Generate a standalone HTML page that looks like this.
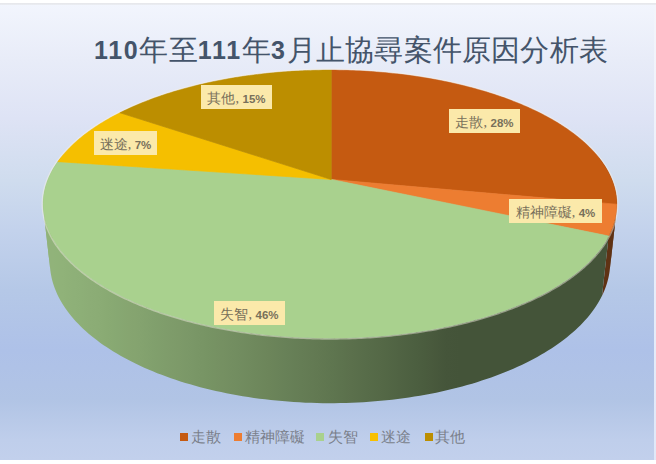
<!DOCTYPE html>
<html lang="zh-Hant"><head><meta charset="utf-8">
<style>
html,body{margin:0;padding:0;}
body{width:656px;height:464px;position:relative;overflow:hidden;background:#fff;font-family:"Liberation Sans",sans-serif;}
#bg{position:absolute;left:0;top:5px;width:654px;height:455px;
 background:linear-gradient(to bottom,#f2f5fd 0%,#e8ecf8 12%,#dee3f5 25%,#cfdcee 38.6%,#c3d2ec 49.6%,#b5c8e7 62.7%,#aec1e8 75.9%,#b1c4e5 86.8%,#bfceeb 95.6%,#c2d0ec 100%);}
#topline{position:absolute;left:0;top:3px;width:656px;height:2px;background:linear-gradient(#e6e6ea,#ebedf3);}
#rstrip{position:absolute;left:654px;top:5px;width:2px;height:455px;background:linear-gradient(#f3f5fb,#e0e8f8);}
svg{position:absolute;left:0;top:0;}
.title{position:absolute;left:94px;top:30px;white-space:nowrap;color:#44546a;font-size:29px;line-height:40px;letter-spacing:0.2px;font-weight:500;}
.title b{font-weight:bold;font-size:25px;letter-spacing:1.7px;position:relative;top:-1px;}
.lbl{position:absolute;background:#fbe9aa;color:#78705a;font-size:14px;line-height:28px;height:24px;overflow:hidden;white-space:nowrap;text-align:center;font-family:"Liberation Serif",serif;}
.lbl b{font-family:"Liberation Sans",sans-serif;font-weight:bold;font-size:11.5px;}
.legend{position:absolute;top:427px;left:0;height:20px;font-size:15px;color:#7a7f8a;white-space:nowrap;line-height:20px;}
.legend i{position:absolute;top:6px;width:8px;height:8px;}
.legend span{position:absolute;top:0;font-family:"Liberation Serif",serif;}
</style></head><body>
<div id="bg"></div><div id="topline"></div><div id="rstrip"></div>
<svg width="656" height="464" viewBox="0 0 656 464">
<defs><linearGradient id="g0" gradientUnits="userSpaceOnUse" x1="593.41" y1="0" x2="616.83" y2="0"><stop offset="0.9998" stop-color="#4f2407"/><stop offset="1.0000" stop-color="#4f2407"/></linearGradient><linearGradient id="g1" gradientUnits="userSpaceOnUse" x1="602.02" y1="0" x2="616.83" y2="0"><stop offset="0.4498" stop-color="#5f3214"/><stop offset="0.4683" stop-color="#5f3214"/><stop offset="0.4865" stop-color="#5f3214"/><stop offset="0.5043" stop-color="#5f3214"/><stop offset="0.5218" stop-color="#5f3214"/><stop offset="0.5390" stop-color="#5f3214"/><stop offset="0.5559" stop-color="#5f3214"/><stop offset="0.5725" stop-color="#5f3214"/><stop offset="0.5887" stop-color="#5f3214"/><stop offset="0.6046" stop-color="#5f3214"/><stop offset="0.6202" stop-color="#5f3214"/><stop offset="0.6355" stop-color="#5f3214"/><stop offset="0.6504" stop-color="#5f3214"/><stop offset="0.6651" stop-color="#5f3214"/><stop offset="0.6794" stop-color="#5f3214"/><stop offset="0.6934" stop-color="#5f3214"/><stop offset="0.7070" stop-color="#5f3214"/><stop offset="0.7204" stop-color="#5f3214"/><stop offset="0.7334" stop-color="#5f3214"/><stop offset="0.7461" stop-color="#5f3214"/><stop offset="0.7585" stop-color="#5f3214"/><stop offset="0.7706" stop-color="#5f3214"/><stop offset="0.7824" stop-color="#5f3214"/><stop offset="0.7938" stop-color="#5f3214"/><stop offset="0.8049" stop-color="#5f3214"/><stop offset="0.8158" stop-color="#5f3214"/><stop offset="0.8263" stop-color="#5f3214"/><stop offset="0.8365" stop-color="#5f3214"/><stop offset="0.8463" stop-color="#5f3214"/><stop offset="0.8559" stop-color="#5f3214"/><stop offset="0.8651" stop-color="#5f3214"/><stop offset="0.8741" stop-color="#5f3214"/><stop offset="0.8827" stop-color="#5f3214"/><stop offset="0.8910" stop-color="#5f3214"/><stop offset="0.8990" stop-color="#5f3214"/><stop offset="0.9067" stop-color="#5f3214"/><stop offset="0.9141" stop-color="#5f3214"/><stop offset="0.9212" stop-color="#5f3214"/><stop offset="0.9279" stop-color="#5f3214"/><stop offset="0.9344" stop-color="#5f3214"/><stop offset="0.9406" stop-color="#5f3214"/><stop offset="0.9464" stop-color="#5f3214"/><stop offset="0.9519" stop-color="#5f3214"/><stop offset="0.9572" stop-color="#5f3214"/><stop offset="0.9621" stop-color="#5f3214"/><stop offset="0.9667" stop-color="#5f3214"/><stop offset="0.9711" stop-color="#5f3214"/><stop offset="0.9751" stop-color="#5f3214"/><stop offset="0.9788" stop-color="#5f3214"/><stop offset="0.9822" stop-color="#5f3214"/><stop offset="0.9853" stop-color="#5f3214"/><stop offset="0.9881" stop-color="#5f3214"/><stop offset="0.9906" stop-color="#5f3214"/><stop offset="0.9929" stop-color="#5f3214"/><stop offset="0.9948" stop-color="#5f3214"/><stop offset="0.9964" stop-color="#5f3214"/><stop offset="0.9977" stop-color="#5f3214"/><stop offset="0.9987" stop-color="#5f3214"/><stop offset="0.9994" stop-color="#5f3214"/><stop offset="0.9999" stop-color="#5f3214"/><stop offset="1.0000" stop-color="#5f3214"/></linearGradient><linearGradient id="g2" gradientUnits="userSpaceOnUse" x1="43.15" y1="0" x2="608.68" y2="0"><stop offset="0.0000" stop-color="#90b279"/><stop offset="0.0009" stop-color="#90b379"/><stop offset="0.0030" stop-color="#91b37a"/><stop offset="0.0064" stop-color="#91b37a"/><stop offset="0.0111" stop-color="#91b37a"/><stop offset="0.0171" stop-color="#91b37a"/><stop offset="0.0244" stop-color="#90b379"/><stop offset="0.0331" stop-color="#90b279"/><stop offset="0.0431" stop-color="#8fb178"/><stop offset="0.0545" stop-color="#8eb078"/><stop offset="0.0673" stop-color="#8daf77"/><stop offset="0.0814" stop-color="#8cad76"/><stop offset="0.0968" stop-color="#8bac75"/><stop offset="0.1136" stop-color="#89aa73"/><stop offset="0.1316" stop-color="#87a872"/><stop offset="0.1509" stop-color="#86a570"/><stop offset="0.1714" stop-color="#84a36f"/><stop offset="0.1930" stop-color="#81a06d"/><stop offset="0.2157" stop-color="#7f9d6b"/><stop offset="0.2395" stop-color="#7d9a69"/><stop offset="0.2642" stop-color="#7a9767"/><stop offset="0.2898" stop-color="#779464"/><stop offset="0.3161" stop-color="#759062"/><stop offset="0.3432" stop-color="#728d60"/><stop offset="0.3709" stop-color="#6f895d"/><stop offset="0.3991" stop-color="#6c855a"/><stop offset="0.4277" stop-color="#688158"/><stop offset="0.4566" stop-color="#657d55"/><stop offset="0.4857" stop-color="#627952"/><stop offset="0.5149" stop-color="#5e754f"/><stop offset="0.5440" stop-color="#5b704c"/><stop offset="0.5730" stop-color="#576c49"/><stop offset="0.6017" stop-color="#546846"/><stop offset="0.6301" stop-color="#506343"/><stop offset="0.6580" stop-color="#4c5f40"/><stop offset="0.6853" stop-color="#495a3d"/><stop offset="0.7120" stop-color="#45553a"/><stop offset="0.7379" stop-color="#445439"/><stop offset="0.7629" stop-color="#445439"/><stop offset="0.7871" stop-color="#445439"/><stop offset="0.8102" stop-color="#445439"/><stop offset="0.8323" stop-color="#445439"/><stop offset="0.8533" stop-color="#445439"/><stop offset="0.8730" stop-color="#445439"/><stop offset="0.8916" stop-color="#445439"/><stop offset="0.9089" stop-color="#445439"/><stop offset="0.9250" stop-color="#445439"/><stop offset="0.9397" stop-color="#445439"/><stop offset="0.9531" stop-color="#445439"/><stop offset="0.9651" stop-color="#445439"/><stop offset="0.9759" stop-color="#445439"/><stop offset="0.9852" stop-color="#445439"/><stop offset="0.9933" stop-color="#445439"/><stop offset="1.0000" stop-color="#445439"/></linearGradient><linearGradient id="g3" gradientUnits="userSpaceOnUse" x1="57.79" y1="0" x2="66.96" y2="0"><stop offset="0.0000" stop-color="#c39800"/></linearGradient></defs>
<path d="M599.20,158.02 L600.78,160.07 L602.28,162.14 L603.72,164.23 L605.09,166.33 L606.39,168.45 L607.62,170.59 L608.77,172.74 L609.86,174.91 L610.86,177.10 L611.80,179.29 L612.66,181.50 L613.44,183.73 L614.14,185.97 L614.76,188.22 L615.30,190.48 L615.77,192.75 L616.15,195.04 L616.44,197.33 L616.66,199.63 L616.79,201.94 L616.83,204.26 L610.25,262.29 L610.23,259.84 L610.13,257.40 L609.94,254.97 L609.67,252.55 L609.32,250.14 L608.88,247.74 L608.37,245.35 L607.78,242.98 L607.12,240.61 L606.37,238.26 L605.55,235.93 L604.66,233.61 L603.69,231.30 L602.65,229.01 L601.54,226.73 L600.36,224.47 L599.11,222.23 L597.78,220.01 L596.39,217.80 L594.94,215.61 L593.41,213.44 Z" fill="url(#g0)"/>
<path d="M616.83,204.26 L616.80,206.29 L616.70,208.32 L616.54,210.35 L616.31,212.39 L609.67,270.86 L609.91,268.71 L610.09,266.57 L610.20,264.43 L610.25,262.29 Z" fill="url(#g1)"/>
<path d="M616.31,212.39 L615.96,214.74 L615.52,217.10 L614.99,219.46 L614.37,221.82 L613.65,224.18 L612.85,226.55 L611.95,228.91 L610.95,231.28 L609.86,233.64 L608.68,236.00 L602.02,295.76 L603.19,293.27 L604.28,290.78 L605.27,288.29 L606.17,285.79 L606.97,283.30 L607.69,280.81 L608.32,278.32 L608.86,275.83 L609.31,273.34 L609.67,270.86 Z" fill="url(#g1)"/>
<path d="M608.68,236.00 L607.39,238.39 L605.99,240.77 L604.50,243.15 L602.91,245.53 L601.22,247.89 L599.43,250.25 L597.54,252.60 L595.55,254.93 L593.46,257.26 L591.27,259.58 L588.98,261.88 L586.59,264.17 L584.10,266.44 L581.51,268.70 L578.81,270.94 L576.02,273.16 L573.13,275.37 L570.15,277.55 L567.06,279.71 L563.87,281.85 L560.59,283.96 L557.21,286.05 L553.73,288.11 L550.16,290.15 L546.50,292.16 L542.74,294.14 L538.89,296.09 L534.94,298.00 L530.91,299.89 L526.79,301.74 L522.58,303.55 L518.28,305.33 L513.90,307.08 L509.43,308.78 L504.88,310.45 L500.25,312.08 L495.54,313.66 L490.76,315.21 L485.90,316.71 L480.96,318.16 L475.96,319.58 L470.88,320.94 L465.74,322.26 L460.53,323.53 L455.26,324.76 L449.93,325.93 L444.54,327.06 L439.09,328.13 L433.59,329.15 L428.04,330.12 L422.44,331.04 L416.80,331.91 L411.11,332.72 L405.38,333.47 L399.61,334.17 L393.81,334.82 L387.98,335.41 L382.11,335.94 L376.22,336.41 L370.31,336.83 L364.37,337.19 L358.42,337.50 L352.45,337.74 L346.48,337.93 L340.49,338.05 L334.49,338.12 L328.50,338.14 L322.50,338.09 L316.51,337.98 L310.52,337.82 L304.55,337.59 L298.58,337.31 L292.63,336.97 L286.70,336.58 L280.79,336.12 L274.91,335.61 L269.05,335.04 L263.22,334.42 L257.43,333.74 L251.67,333.00 L245.95,332.21 L240.27,331.36 L234.64,330.46 L229.05,329.50 L223.51,328.50 L218.02,327.44 L212.59,326.33 L207.21,325.17 L201.90,323.96 L196.64,322.70 L191.45,321.39 L186.32,320.03 L181.27,318.63 L176.28,317.18 L171.37,315.69 L166.53,314.15 L161.77,312.57 L157.08,310.95 L152.48,309.29 L147.96,307.58 L143.52,305.84 L139.16,304.06 L134.89,302.25 L130.71,300.40 L126.62,298.51 L122.62,296.59 L118.71,294.64 L114.90,292.66 L111.17,290.64 L107.55,288.60 L104.01,286.53 L100.58,284.44 L97.24,282.31 L94.00,280.17 L90.86,278.00 L87.82,275.80 L84.88,273.59 L82.04,271.35 L79.29,269.10 L76.65,266.83 L74.11,264.54 L71.68,262.24 L69.34,259.92 L67.11,257.59 L64.97,255.25 L62.94,252.89 L61.01,250.53 L59.18,248.15 L57.45,245.77 L55.83,243.38 L54.30,240.98 L52.87,238.58 L51.55,236.17 L50.32,233.76 L49.19,231.35 L48.16,228.93 L47.23,226.52 L46.40,224.10 L45.66,221.69 L45.02,219.28 L44.47,216.87 L44.02,214.46 L43.66,212.06 L50.42,271.02 L50.79,273.56 L51.25,276.09 L51.81,278.63 L52.46,281.17 L53.20,283.71 L54.03,286.26 L54.96,288.80 L55.99,291.34 L57.11,293.88 L58.33,296.42 L59.65,298.95 L61.06,301.48 L62.57,304.00 L64.17,306.51 L65.88,309.02 L67.68,311.51 L69.59,314.00 L71.59,316.48 L73.69,318.94 L75.88,321.39 L78.18,323.82 L80.57,326.24 L83.07,328.64 L85.66,331.03 L88.35,333.39 L91.13,335.73 L94.02,338.06 L97.00,340.36 L100.08,342.63 L103.25,344.88 L106.52,347.11 L109.88,349.31 L113.33,351.48 L116.88,353.62 L120.52,355.72 L124.25,357.80 L128.07,359.85 L131.98,361.85 L135.97,363.83 L140.05,365.77 L144.22,367.67 L148.47,369.53 L152.80,371.35 L157.21,373.13 L161.70,374.87 L166.27,376.56 L170.92,378.21 L175.63,379.82 L180.42,381.38 L185.28,382.89 L190.21,384.36 L195.20,385.77 L200.26,387.14 L205.38,388.45 L210.56,389.72 L215.79,390.93 L221.08,392.09 L226.43,393.19 L231.82,394.24 L237.26,395.23 L242.74,396.17 L248.27,397.05 L253.84,397.88 L259.44,398.64 L265.08,399.35 L270.75,400.00 L276.45,400.59 L282.17,401.12 L287.92,401.59 L293.69,402.00 L299.48,402.35 L305.28,402.64 L311.10,402.87 L316.92,403.04 L322.75,403.14 L328.58,403.19 L334.41,403.17 L340.24,403.09 L346.07,402.95 L351.88,402.75 L357.69,402.49 L363.48,402.17 L369.25,401.79 L375.00,401.35 L380.74,400.84 L386.44,400.28 L392.12,399.66 L397.76,398.98 L403.38,398.24 L408.95,397.45 L414.49,396.60 L419.98,395.69 L425.43,394.72 L430.84,393.70 L436.19,392.63 L441.50,391.50 L446.75,390.31 L451.94,389.08 L457.07,387.79 L462.15,386.46 L467.16,385.07 L472.11,383.64 L476.98,382.15 L481.79,380.62 L486.53,379.05 L491.20,377.43 L495.79,375.76 L500.31,374.05 L504.75,372.30 L509.11,370.51 L513.38,368.68 L517.58,366.81 L521.69,364.90 L525.72,362.96 L529.66,360.98 L533.51,358.96 L537.28,356.92 L540.95,354.84 L544.54,352.73 L548.03,350.59 L551.43,348.42 L554.74,346.22 L557.95,344.00 L561.07,341.75 L564.10,339.48 L567.03,337.18 L569.86,334.87 L572.60,332.53 L575.24,330.17 L577.79,327.80 L580.23,325.41 L582.58,323.00 L584.83,320.58 L586.99,318.14 L589.05,315.69 L591.01,313.23 L592.87,310.76 L594.64,308.27 L596.31,305.78 L597.88,303.29 L599.35,300.78 L600.73,298.27 L602.02,295.76 Z" fill="url(#g2)"/>
<path d="M43.66,212.06 L43.39,209.66 L43.22,207.26 L43.14,204.87 L43.15,202.49 L43.25,200.12 L43.44,197.75 L43.71,195.40 L44.08,193.05 L44.53,190.72 L45.07,188.39 L45.69,186.08 L46.39,183.79 L47.18,181.50 L48.05,179.23 L48.99,176.98 L50.02,174.74 L51.13,172.51 L52.31,170.30 L53.57,168.11 L54.90,165.94 L56.31,163.78 L57.79,161.64 L63.79,217.76 L62.36,220.03 L61.00,222.31 L59.72,224.61 L58.51,226.93 L57.37,229.26 L56.31,231.61 L55.32,233.98 L54.41,236.37 L53.59,238.77 L52.84,241.18 L52.17,243.61 L51.58,246.05 L51.08,248.50 L50.66,250.96 L50.32,253.44 L50.07,255.93 L49.91,258.42 L49.83,260.93 L49.85,263.44 L49.95,265.96 L50.14,268.49 L50.42,271.02 Z" fill="url(#g2)"/>
<path d="M57.79,161.64 L58.85,160.18 L59.95,158.73 L61.08,157.29 L66.96,213.15 L65.87,214.68 L64.82,216.22 L63.79,217.76 Z" fill="url(#g3)"/>
<path d="M331.19,179.44 L331.22,70.09 L335.36,70.11 L339.50,70.17 L343.63,70.25 L347.76,70.35 L351.89,70.49 L356.02,70.66 L360.14,70.85 L364.26,71.07 L368.37,71.32 L372.47,71.59 L376.57,71.89 L380.66,72.23 L384.74,72.58 L388.81,72.97 L392.87,73.39 L396.92,73.83 L400.96,74.30 L404.99,74.80 L409.00,75.32 L413.00,75.87 L416.99,76.45 L420.96,77.06 L424.92,77.70 L428.86,78.36 L432.78,79.05 L436.69,79.77 L440.58,80.52 L444.44,81.29 L448.29,82.09 L452.12,82.92 L455.93,83.77 L459.71,84.66 L463.47,85.57 L467.21,86.50 L470.92,87.47 L474.61,88.46 L478.27,89.48 L481.91,90.52 L485.52,91.59 L489.09,92.69 L492.64,93.82 L496.16,94.97 L499.65,96.15 L503.11,97.36 L506.53,98.59 L509.92,99.85 L513.28,101.13 L516.60,102.44 L519.89,103.78 L523.14,105.14 L526.35,106.53 L529.52,107.95 L532.65,109.39 L535.74,110.86 L538.79,112.35 L541.80,113.86 L544.76,115.41 L547.68,116.97 L550.55,118.56 L553.38,120.18 L556.16,121.82 L558.89,123.49 L561.58,125.18 L564.21,126.89 L566.79,128.62 L569.32,130.38 L571.80,132.17 L574.22,133.97 L576.58,135.80 L578.89,137.65 L581.15,139.53 L583.34,141.42 L585.47,143.34 L587.55,145.28 L589.56,147.24 L591.51,149.22 L593.40,151.22 L595.22,153.24 L596.97,155.28 L598.66,157.34 L600.28,159.42 L601.84,161.52 L603.32,163.63 L604.73,165.76 L606.07,167.91 L607.33,170.08 L608.52,172.26 L609.64,174.46 L610.68,176.68 L611.64,178.91 L612.52,181.15 L613.33,183.41 L614.05,185.68 L614.70,187.97 L615.26,190.26 L615.73,192.57 L616.12,194.89 L616.43,197.22 L616.65,199.56 L616.78,201.91 L616.83,204.26 Z" fill="#c55a11" stroke="#c55a11" stroke-width="0.7" stroke-linejoin="round"/>
<path d="M331.19,179.44 L616.83,204.26 L616.79,206.51 L616.67,208.76 L616.47,211.01 L616.18,213.27 L615.82,215.54 L615.37,217.81 L614.83,220.08 L614.21,222.35 L613.51,224.63 L612.72,226.90 L611.84,229.18 L610.87,231.46 L609.82,233.73 L608.68,236.00 Z" fill="#ed7d31" stroke="#ed7d31" stroke-width="0.7" stroke-linejoin="round"/>
<path d="M331.19,179.44 L608.68,236.00 L607.38,238.39 L605.99,240.78 L604.50,243.16 L602.91,245.53 L601.22,247.90 L599.42,250.25 L597.53,252.60 L595.54,254.94 L593.45,257.27 L591.26,259.59 L588.97,261.89 L586.58,264.18 L584.08,266.46 L581.49,268.71 L578.80,270.96 L576.01,273.18 L573.11,275.38 L570.12,277.56 L567.03,279.73 L563.85,281.86 L560.56,283.98 L557.18,286.07 L553.70,288.13 L550.13,290.17 L546.46,292.18 L542.70,294.16 L538.84,296.11 L534.90,298.03 L530.86,299.91 L526.74,301.76 L522.52,303.58 L518.22,305.36 L513.84,307.10 L509.37,308.81 L504.82,310.47 L500.18,312.10 L495.47,313.69 L490.68,315.23 L485.82,316.73 L480.88,318.19 L475.87,319.60 L470.79,320.96 L465.65,322.28 L460.44,323.56 L455.16,324.78 L449.83,325.95 L444.43,327.08 L438.98,328.15 L433.48,329.17 L427.93,330.14 L422.32,331.06 L416.68,331.92 L410.98,332.73 L405.25,333.49 L399.48,334.19 L393.68,334.83 L387.84,335.42 L381.97,335.95 L376.08,336.42 L370.16,336.84 L364.22,337.20 L358.27,337.50 L352.30,337.75 L346.32,337.93 L340.33,338.06 L334.33,338.13 L328.33,338.13 L322.33,338.09 L316.34,337.98 L310.35,337.81 L304.37,337.59 L298.41,337.30 L292.45,336.96 L286.52,336.56 L280.61,336.11 L274.72,335.59 L268.87,335.02 L263.04,334.40 L257.24,333.71 L251.48,332.97 L245.76,332.18 L240.08,331.33 L234.44,330.43 L228.85,329.47 L223.31,328.46 L217.83,327.40 L212.39,326.29 L207.02,325.12 L201.70,323.91 L196.45,322.65 L191.26,321.34 L186.13,319.98 L181.07,318.57 L176.09,317.12 L171.18,315.63 L166.34,314.09 L161.58,312.51 L156.89,310.88 L152.29,309.22 L147.77,307.51 L143.33,305.77 L138.98,303.99 L134.71,302.17 L130.54,300.32 L126.45,298.43 L122.45,296.51 L118.54,294.55 L114.73,292.57 L111.01,290.55 L107.38,288.51 L103.85,286.44 L100.42,284.34 L97.09,282.21 L93.85,280.06 L90.71,277.89 L87.68,275.70 L84.74,273.48 L81.90,271.25 L79.16,268.99 L76.53,266.72 L73.99,264.43 L71.56,262.12 L69.22,259.80 L66.99,257.47 L64.87,255.12 L62.84,252.77 L60.91,250.40 L59.09,248.02 L57.36,245.64 L55.74,243.25 L54.22,240.85 L52.80,238.45 L51.48,236.04 L50.26,233.63 L49.13,231.21 L48.11,228.80 L47.18,226.38 L46.35,223.97 L45.62,221.55 L44.98,219.14 L44.44,216.73 L43.99,214.32 L43.64,211.92 L43.38,209.53 L43.21,207.14 L43.14,204.75 L43.15,202.38 L43.25,200.01 L43.45,197.65 L43.73,195.30 L44.09,192.96 L44.55,190.63 L45.08,188.32 L45.71,186.01 L46.41,183.72 L47.20,181.45 L48.07,179.18 L49.01,176.93 L50.04,174.70 L51.14,172.48 L52.32,170.28 L53.58,168.09 L54.91,165.93 L56.32,163.77 L57.79,161.64 Z" fill="#a9d18e" stroke="#a9d18e" stroke-width="0.7" stroke-linejoin="round"/>
<path d="M331.19,179.44 L57.79,161.64 L59.32,159.56 L60.91,157.49 L62.57,155.44 L64.30,153.42 L66.09,151.41 L67.95,149.42 L69.87,147.45 L71.85,145.50 L73.89,143.57 L75.99,141.67 L78.15,139.78 L80.37,137.92 L82.64,136.08 L84.97,134.26 L87.36,132.46 L89.80,130.69 L92.29,128.94 L94.83,127.21 L97.42,125.51 L100.07,123.83 L102.76,122.17 L105.50,120.54 L108.28,118.93 L111.11,117.34 L113.99,115.78 L116.91,114.25 L119.87,112.74 Z" fill="#f5bf00" stroke="#f5bf00" stroke-width="0.7" stroke-linejoin="round"/>
<path d="M331.19,179.44 L119.87,112.74 L122.92,111.23 L126.00,109.75 L129.13,108.30 L132.29,106.87 L135.50,105.47 L138.74,104.10 L142.02,102.75 L145.34,101.43 L148.69,100.13 L152.08,98.87 L155.50,97.62 L158.95,96.41 L162.44,95.22 L165.95,94.06 L169.50,92.92 L173.08,91.82 L176.68,90.74 L180.31,89.68 L183.97,88.66 L187.65,87.66 L191.36,86.69 L195.10,85.74 L198.86,84.83 L202.64,83.94 L206.44,83.08 L210.26,82.24 L214.11,81.44 L217.97,80.66 L221.85,79.91 L225.76,79.18 L229.67,78.49 L233.61,77.82 L237.56,77.18 L241.53,76.56 L245.51,75.98 L249.50,75.42 L253.51,74.89 L257.53,74.39 L261.56,73.91 L265.60,73.47 L269.66,73.05 L273.72,72.65 L277.79,72.29 L281.87,71.95 L285.96,71.65 L290.05,71.37 L294.15,71.11 L298.26,70.89 L302.37,70.69 L306.48,70.52 L310.60,70.38 L314.72,70.27 L318.84,70.18 L322.97,70.12 L327.09,70.09 L331.22,70.09 Z" fill="#bc8e00" stroke="#bc8e00" stroke-width="0.7" stroke-linejoin="round"/>
<path d="M331.22,69.19 L333.30,69.20 L335.38,69.21 L337.46,69.24 L339.54,69.27 L341.62,69.30 L343.70,69.35 L345.78,69.40 L347.86,69.46 L349.94,69.52 L352.01,69.60 L354.09,69.67 L356.16,69.76 L358.23,69.85 L360.30,69.95 L362.37,70.06 L364.44,70.18 L366.51,70.30 L368.58,70.43 L370.64,70.56 L372.70,70.71 L374.76,70.85 L376.82,71.01 L378.88,71.18 L380.93,71.35 L382.99,71.52 L385.04,71.71 L387.08,71.90 L389.13,72.10 L391.17,72.30 L393.21,72.52 L395.25,72.74 L397.29,72.96 L399.32,73.20 L401.35,73.44 L403.37,73.69 L405.40,73.94 L407.42,74.20 L409.43,74.47 L411.45,74.75 L413.46,75.03 L415.46,75.32 L417.46,75.62 L419.46,75.92 L421.46,76.23 L423.45,76.55 L425.44,76.87 L427.42,77.20 L429.40,77.54 L431.37,77.89 L433.34,78.24 L435.31,78.60 L437.27,78.96 L439.23,79.34 L441.18,79.72 L443.12,80.10 L445.07,80.50 L447.00,80.90 L448.94,81.31 L450.86,81.72 L452.78,82.14 L454.70,82.57 L456.61,83.01 L458.51,83.45 L460.41,83.90 L462.31,84.35 L464.19,84.82 L466.08,85.29 L467.95,85.76 L469.82,86.25 L471.68,86.74 L473.54,87.24 L475.39,87.74 L477.23,88.25 L479.07,88.77 L480.90,89.29 L482.72,89.82 L484.54,90.36 L486.35,90.91 L488.15,91.46 L489.95,92.02 L491.73,92.58 L493.51,93.15 L495.29,93.73 L497.05,94.32 L498.81,94.91 L500.56,95.51 L502.30,96.12 L504.03,96.73 L505.76,97.35 L507.47,97.97 L509.18,98.61 L510.88,99.25 L512.57,99.89 L514.25,100.55 L515.92,101.20 L517.59,101.87 L519.24,102.54 L520.89,103.22 L522.52,103.91 L524.15,104.60 L525.77,105.30 L527.38,106.00 L528.97,106.72 L530.56,107.43 L532.14,108.16 L533.71,108.89 L535.26,109.63 L536.81,110.37 L538.35,111.12 L539.87,111.88 L541.39,112.65 L542.89,113.42 L544.39,114.19 L545.87,114.97 L547.34,115.76 L548.80,116.56 L550.25,117.36 L551.68,118.17 L553.11,118.98 L554.52,119.80 L555.92,120.63 L557.31,121.46 L558.69,122.30 L560.06,123.15 L561.41,124.00 L562.75,124.86 L564.08,125.72 L565.39,126.59 L566.69,127.47 L567.98,128.35 L569.26,129.24 L570.52,130.13 L571.77,131.03 L573.00,131.94 L574.22,132.85 L575.43,133.77 L576.62,134.69 L577.80,135.62 L578.97,136.55 L580.12,137.49 L581.25,138.44 L582.37,139.39 L583.48,140.35 L584.57,141.31 L585.65,142.28 L586.71,143.26 L587.76,144.24 L588.79,145.22 L589.81,146.21 L590.80,147.21 L591.79,148.21 L592.76,149.22 L593.71,150.23 L594.64,151.25 L595.56,152.27 L596.47,153.30 L597.35,154.33 L598.22,155.37 L599.07,156.41 L599.91,157.46 L600.73,158.51 L601.53,159.57 L602.31,160.64 L603.08,161.70 L603.82,162.78 L604.55,163.85 L605.27,164.94 L605.96,166.02 L606.63,167.11 L607.29,168.21 L607.93,169.31 L608.55,170.41 L609.15,171.52 L609.73,172.64 L610.29,173.75 L610.84,174.87 L611.36,176.00 L611.86,177.13 L612.35,178.26 L612.81,179.40 L613.26,180.54 L613.68,181.69 L614.08,182.84 L614.47,183.99 L614.83,185.14 L615.17,186.30 L615.49,187.47 L615.79,188.63 L616.07,189.80 L616.33,190.97 L616.57,192.15 L616.78,193.33 L616.98,194.51 L617.15,195.69 L617.30,196.88 L617.43,198.07 L617.53,199.26 L617.61,200.45 L617.68,201.65 L617.71,202.85 L617.73,204.05 L617.72,205.25 L617.69,206.46 L617.64,207.66 L617.56,208.87 L617.47,210.08 L617.34,211.29 L617.20,212.50 L617.03,213.72 L616.84,214.93 L616.62,216.15 L616.38,217.36 L616.12,218.58 L615.83,219.80 L615.52,221.02 L615.18,222.23 L614.82,223.45 L614.44,224.67 L614.03,225.89 L613.60,227.11 L613.14,228.33 L612.66,229.55 L612.15,230.77 L611.62,231.99 L611.07,233.20 L610.49,234.42 L609.88,235.63 L609.25,236.85 L608.60,238.06 L607.92,239.28 L607.21,240.49 L606.48,241.70 L605.73,242.90 L604.95,244.11 L604.15,245.31 L603.32,246.52 L602.46,247.72 L601.58,248.92 L600.67,250.11 L599.74,251.31 L598.79,252.50 L597.80,253.68 L596.80,254.87 L595.76,256.05 L594.71,257.23 L593.62,258.41 L592.52,259.58 L591.38,260.75 L590.22,261.92 L589.04,263.08 L587.83,264.24 L586.59,265.39 L585.33,266.54 L584.05,267.69 L582.74,268.83 L581.40,269.97 L580.04,271.10 L578.65,272.23 L577.24,273.36 L575.80,274.47 L574.34,275.59 L572.85,276.69 L571.34,277.80 L569.80,278.89 L568.24,279.99 L566.66,281.07 L565.05,282.15 L563.41,283.22 L561.75,284.29 L560.07,285.35 L558.36,286.41 L556.62,287.45 L554.87,288.50 L553.08,289.53 L551.28,290.56 L549.45,291.58 L547.60,292.59 L545.72,293.59 L543.82,294.59 L541.89,295.58 L539.95,296.56 L537.98,297.54 L535.98,298.50 L533.97,299.46 L531.93,300.41 L529.87,301.35 L527.78,302.28 L525.68,303.21 L523.55,304.12 L521.40,305.02 L519.23,305.92 L517.03,306.81 L514.82,307.68 L512.58,308.55 L510.33,309.41 L508.05,310.26 L505.75,311.09 L503.43,311.92 L501.09,312.74 L498.73,313.55 L496.35,314.34 L493.96,315.13 L491.54,315.90 L489.10,316.67 L486.65,317.42 L484.17,318.16 L481.68,318.89 L479.17,319.61 L476.64,320.32 L474.10,321.02 L471.53,321.70 L468.95,322.37 L466.35,323.03 L463.74,323.68 L461.11,324.32 L458.47,324.94 L455.80,325.56 L453.13,326.16 L450.43,326.74 L447.73,327.32 L445.01,327.88 L442.27,328.43 L439.52,328.96 L436.76,329.49 L433.98,330.00 L431.19,330.49 L428.39,330.98 L425.58,331.45 L422.75,331.90 L419.92,332.35 L417.07,332.78 L414.21,333.19 L411.34,333.59 L408.46,333.98 L405.57,334.36 L402.67,334.72 L399.76,335.06 L396.84,335.39 L393.91,335.71 L390.98,336.02 L388.03,336.30 L385.08,336.58 L382.13,336.84 L379.16,337.09 L376.19,337.32 L373.22,337.54 L370.24,337.74 L367.25,337.93 L364.26,338.10 L361.26,338.26 L358.26,338.40 L355.26,338.53 L352.25,338.65 L349.24,338.75 L346.23,338.83 L343.21,338.90 L340.20,338.96 L337.18,339.00 L334.16,339.03 L331.14,339.04 L328.12,339.03 L325.10,339.02 L322.08,338.98 L319.06,338.93 L316.04,338.87 L313.03,338.79 L310.02,338.70 L307.00,338.59 L304.00,338.47 L300.99,338.34 L297.99,338.18 L294.99,338.02 L292.00,337.84 L289.01,337.64 L286.03,337.43 L283.05,337.21 L280.08,336.97 L277.11,336.71 L274.15,336.44 L271.20,336.16 L268.25,335.87 L265.32,335.55 L262.39,335.23 L259.47,334.89 L256.55,334.53 L253.65,334.17 L250.76,333.78 L247.87,333.39 L245.00,332.98 L242.14,332.56 L239.29,332.12 L236.45,331.67 L233.62,331.20 L230.80,330.72 L227.99,330.23 L225.20,329.73 L222.42,329.21 L219.65,328.68 L216.90,328.13 L214.16,327.58 L211.44,327.01 L208.73,326.42 L206.03,325.83 L203.35,325.22 L200.68,324.60 L198.03,323.96 L195.40,323.32 L192.78,322.66 L190.18,321.99 L187.60,321.31 L185.03,320.61 L182.48,319.91 L179.95,319.19 L177.44,318.46 L174.94,317.72 L172.46,316.97 L170.00,316.20 L167.56,315.43 L165.14,314.65 L162.74,313.85 L160.36,313.04 L158.00,312.23 L155.66,311.40 L153.34,310.56 L151.03,309.71 L148.75,308.85 L146.49,307.99 L144.26,307.11 L142.04,306.22 L139.84,305.32 L137.67,304.42 L135.52,303.50 L133.39,302.57 L131.28,301.64 L129.20,300.70 L127.13,299.75 L125.09,298.79 L123.08,297.82 L121.08,296.84 L119.11,295.85 L117.17,294.86 L115.24,293.86 L113.34,292.85 L111.47,291.83 L109.62,290.81 L107.79,289.78 L105.98,288.74 L104.20,287.69 L102.45,286.64 L100.72,285.58 L99.01,284.51 L97.33,283.44 L95.67,282.36 L94.04,281.28 L92.43,280.18 L90.85,279.09 L89.29,277.98 L87.76,276.87 L86.25,275.76 L84.77,274.64 L83.31,273.51 L81.88,272.38 L80.47,271.25 L79.09,270.11 L77.74,268.96 L76.41,267.81 L75.10,266.66 L73.82,265.50 L72.57,264.34 L71.34,263.17 L70.14,262.00 L68.97,260.82 L67.82,259.65 L66.69,258.46 L65.59,257.28 L64.52,256.09 L63.47,254.90 L62.45,253.70 L61.45,252.51 L60.48,251.31 L59.54,250.10 L58.62,248.90 L57.72,247.69 L56.86,246.48 L56.01,245.27 L55.20,244.05 L54.40,242.84 L53.64,241.62 L52.90,240.40 L52.18,239.18 L51.49,237.96 L50.83,236.73 L50.19,235.51 L49.57,234.28 L48.99,233.06 L48.42,231.83 L47.88,230.60 L47.37,229.37 L46.88,228.14 L46.42,226.91 L45.98,225.68 L45.56,224.45 L45.17,223.22 L44.81,221.99 L44.47,220.77 L44.15,219.54 L43.86,218.31 L43.59,217.08 L43.35,215.85 L43.13,214.63 L42.94,213.40 L42.77,212.18 L42.62,210.96 L42.50,209.74 L42.40,208.52 L42.32,207.30 L42.27,206.08 L42.24,204.87 L42.23,203.66 L42.25,202.44 L42.29,201.24 L42.35,200.03 L42.44,198.83 L42.54,197.62 L42.67,196.43 L42.83,195.23 L43.00,194.04 L43.20,192.84 L43.42,191.66 L43.66,190.47 L43.92,189.29 L44.21,188.11 L44.51,186.94 L44.84,185.77 L45.19,184.60 L45.56,183.43 L45.95,182.27 L46.36,181.11 L46.79,179.96 L47.25,178.81 L47.72,177.66 L48.21,176.52 L48.72,175.38 L49.26,174.25 L49.81,173.12 L50.38,172.00 L50.97,170.88 L51.58,169.76 L52.21,168.65 L52.86,167.54 L53.53,166.44 L54.22,165.34 L54.92,164.24 L55.65,163.16 L56.39,162.07 L57.15,160.99 L57.93,159.92 L58.73,158.85 L59.54,157.79 L60.37,156.73 L61.22,155.67 L62.09,154.62 L62.97,153.58 L63.87,152.54 L64.79,151.51 L65.72,150.48 L66.67,149.46 L67.64,148.44 L68.62,147.43 L69.62,146.42 L70.64,145.42 L71.67,144.43 L72.72,143.44 L73.78,142.45 L74.86,141.47 L75.95,140.50 L77.06,139.53 L78.18,138.57 L79.32,137.62 L80.47,136.67 L81.64,135.73 L82.83,134.79 L84.02,133.86 L85.23,132.93 L86.46,132.01 L87.70,131.10 L88.95,130.19 L90.22,129.29 L91.50,128.39 L92.79,127.50 L94.10,126.62 L95.42,125.74 L96.75,124.87 L98.10,124.01 L99.45,123.15 L100.83,122.30 L102.21,121.45 L103.60,120.61 L105.01,119.78 L106.43,118.95 L107.87,118.13 L109.31,117.31 L110.77,116.51 L112.23,115.71 L113.71,114.91 L115.20,114.12 L116.70,113.34 L118.22,112.57 L119.74,111.80 L121.27,111.03 L122.82,110.28 L124.37,109.53 L125.94,108.79 L127.52,108.05 L129.10,107.32 L130.70,106.60 L132.31,105.88 L133.92,105.17 L135.55,104.47 L137.19,103.78 L138.83,103.09 L140.49,102.40 L142.15,101.73 L143.82,101.06 L145.51,100.40 L147.20,99.74 L148.90,99.09 L150.61,98.45 L152.32,97.82 L154.05,97.19 L155.78,96.57 L157.53,95.95 L159.28,95.34 L161.03,94.74 L162.80,94.15 L164.57,93.56 L166.36,92.98 L168.15,92.41 L169.94,91.84 L171.75,91.28 L173.56,90.73 L175.38,90.18 L177.20,89.64 L179.04,89.11 L180.88,88.59 L182.72,88.07 L184.58,87.56 L186.44,87.05 L188.30,86.56 L190.17,86.07 L192.05,85.58 L193.94,85.11 L195.83,84.64 L197.72,84.17 L199.63,83.72 L201.53,83.27 L203.45,82.83 L205.37,82.39 L207.29,81.97 L209.22,81.55 L211.16,81.13 L213.10,80.73 L215.04,80.33 L216.99,79.93 L218.95,79.55 L220.91,79.17 L222.87,78.80 L224.84,78.43 L226.81,78.08 L228.79,77.73 L230.77,77.38 L232.76,77.05 L234.75,76.72 L236.74,76.39 L238.74,76.08 L240.74,75.77 L242.75,75.47 L244.76,75.18 L246.77,74.89 L248.79,74.61 L250.81,74.34 L252.83,74.07 L254.86,73.81 L256.88,73.56 L258.92,73.31 L260.95,73.08 L262.99,72.85 L265.03,72.62 L267.07,72.41 L269.12,72.20 L271.16,71.99 L273.21,71.80 L275.27,71.61 L277.32,71.43 L279.38,71.25 L281.44,71.09 L283.50,70.93 L285.56,70.77 L287.62,70.63 L289.69,70.49 L291.76,70.36 L293.83,70.23 L295.90,70.11 L297.97,70.00 L300.04,69.90 L302.11,69.80 L304.19,69.71 L306.27,69.63 L308.34,69.55 L310.42,69.49 L312.50,69.42 L314.58,69.37 L316.66,69.32 L318.74,69.28 L320.82,69.25 L322.90,69.22 L324.98,69.20 L327.06,69.19 L329.14,69.19 Z" fill="none" stroke="#f8f1e6" stroke-opacity="0.45" stroke-width="1.3"/>
</svg>
<div class="title"><b>110</b>年至<b>111</b>年<b>3</b>月止協尋案件原因分析表</div>
<div class="lbl" style="left:201px;top:85px;width:71px;">其他, <b>15%</b></div>
<div class="lbl" style="left:94px;top:131px;width:63px;">迷途, <b>7%</b></div>
<div class="lbl" style="left:449px;top:109px;width:71px;">走散, <b>28%</b></div>
<div class="lbl" style="left:509px;top:199px;width:93px;">精神障礙, <b>4%</b></div>
<div class="lbl" style="left:214px;top:301px;width:71px;">失智, <b>46%</b></div>
<div class="legend">
<i style="left:180px;background:#c55a11"></i><span style="left:191px">走散</span>
<i style="left:234px;background:#ed7d31"></i><span style="left:245px">精神障礙</span>
<i style="left:316px;background:#a9d18e"></i><span style="left:328px">失智</span>
<i style="left:370px;background:#f8c000"></i><span style="left:381px">迷途</span>
<i style="left:425px;background:#bc8e00"></i><span style="left:435px">其他</span>
</div>
</body></html>
